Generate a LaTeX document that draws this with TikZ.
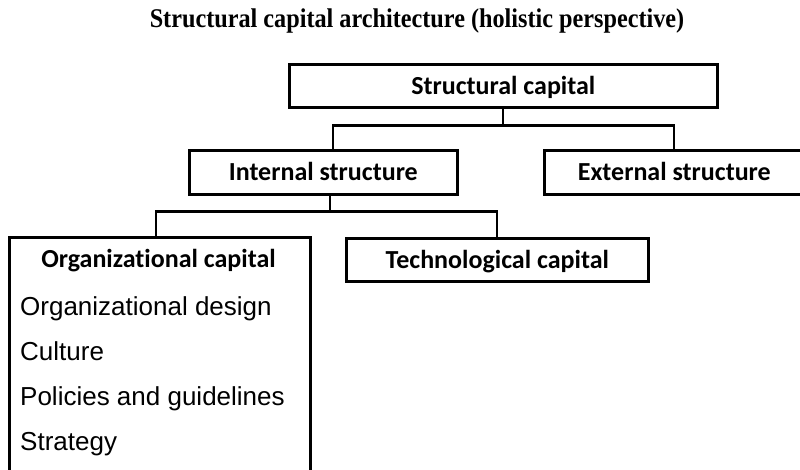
\documentclass[tikz,border=0pt]{standalone}
\usepackage{fontspec}
\setmainfont{Liberation Serif}
\newfontfamily\calfont[Ligatures=NoCommon]{Carlito}
\newfontfamily\arifont{Liberation Sans}
\begin{document}
\begin{tikzpicture}[x=1pt,y=-1pt,
  box/.style={draw,line width=2.6pt,inner sep=0pt,anchor=north west,
    font=\calfont\bfseries\fontsize{26}{30}\selectfont,text height=17pt,text depth=0pt},
  heading/.style={font=\calfont\bfseries\fontsize{26}{30}\selectfont,anchor=base,inner sep=0pt},
  item/.style={font=\arifont\fontsize{26}{30}\selectfont,anchor=base west,inner sep=0pt},
  conn/.style={line width=2.3pt}]
\useasboundingbox (0,0) rectangle (800,469);
\clip (0,0) rectangle (800,469);
\node[font=\bfseries\fontsize{27}{30}\selectfont,anchor=base,inner sep=0pt,xscale=0.897] (title) at (417,27) {Structural capital architecture (holistic perspective)};
\node[box,minimum width=428pt,minimum height=43pt] (sc) at (288,63) {Structural capital};
\node[box,minimum width=268pt,minimum height=44pt] (int) at (188,149) {Internal structure};
\node[box,minimum width=260pt,minimum height=44pt] (ext) at (543,149) {External structure};
\node[box,minimum width=301pt,minimum height=262pt] (org) at (8,236) {};
\node[box,minimum width=302pt,minimum height=43pt] (tech) at (345,237) {Technological capital};
\node[heading] (orgh) at (158.5,267) {Organizational capital};
\node[item] (i1) at (20,315) {Organizational design};
\node[item] (i2) at (20,360) {Culture};
\node[item] (i3) at (20,405) {Policies and guidelines};
\node[item] (i4) at (20,450) {Strategy};
\draw[conn] (sc.south) -- ++(0,17) coordinate (j1);
\draw[conn] ([xshift=10pt]int.north) |- (j1) -| (ext.north);
\draw[conn] ([xshift=7pt]int.south) -- ++(0,16) coordinate (j2);
\draw[conn] ([xshift=-3.5pt]org.north) |- (j2) -| (tech.north);
\end{tikzpicture}
\end{document}
